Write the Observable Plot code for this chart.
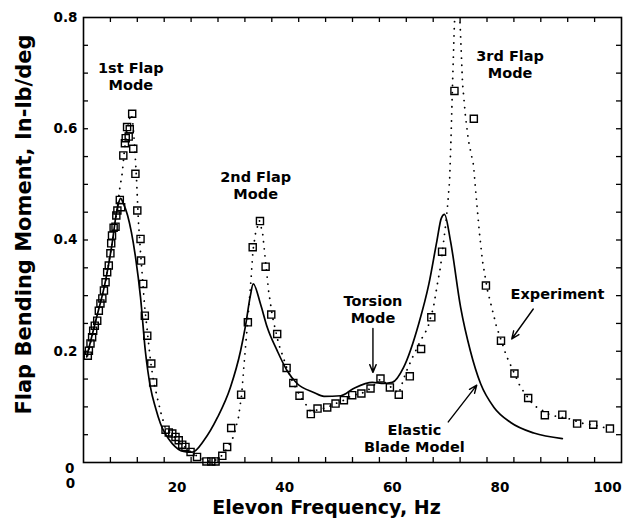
<!DOCTYPE html>
<html>
<head>
<meta charset="utf-8">
<script src="https://cdn.jsdelivr.net/npm/d3@7"></script>
<script src="https://cdn.jsdelivr.net/npm/@observablehq/plot@0.6"></script>
<style>
  html, body { margin: 0; padding: 0; background: #fff; }
  #chart svg { display: block; }
</style>
</head>
<body>
<div id="chart"></div>
<script>
// Experimental flap bending moment (squares), Hz vs in-lb/deg
const expHz = [0.8,1.0,1.3,1.6,1.8,2.1,2.55,2.85,3.15,3.5,3.8,4.1,4.4,4.7,5.0,5.15,5.3,5.6,5.95,6.1,
  6.3,6.75,7.0,7.4,7.7,7.85,8.1,8.4,8.6,9.05,9.25,9.65,10.0,10.6,10.7,11.1,11.4,11.85,12.6,12.95,
  15.25,15.85,16.5,17.1,17.7,18.35,18.95,19.9,21.1,22.85,23.75,24.55,25.8,26.7,27.45,29.3,30.55,31.45,32.8,33.85,
  34.9,36.0,37.75,39.0,40.15,42.25,43.5,45.3,46.85,48.4,49.95,51.65,53.35,55.2,56.95,58.6,60.65,62.75,64.65,66.65,
  68.95,72.55,74.8,77.6,80.1,82.65,85.75,89.0,91.75,94.75,97.85];
const expMoment = [0.192,0.201,0.214,0.225,0.237,0.246,0.255,0.273,0.286,0.295,0.309,0.324,0.342,0.354,0.376,0.394,0.408,0.422,0.424,0.444,
  0.453,0.472,0.459,0.552,0.574,0.583,0.603,0.586,0.599,0.627,0.564,0.519,0.453,0.402,0.363,0.321,0.264,0.228,0.178,0.144,
  0.059,0.054,0.052,0.046,0.040,0.032,0.028,0.019,0.010,0.002,0.002,0.002,0.012,0.028,0.062,0.122,0.252,0.387,0.434,0.352,
  0.266,0.231,0.170,0.143,0.120,0.087,0.097,0.099,0.106,0.112,0.121,0.124,0.133,0.151,0.135,0.122,0.155,0.204,0.261,0.379,
  0.668,0.618,0.318,0.219,0.160,0.116,0.085,0.086,0.070,0.068,0.061];

// Dotted trend through the experimental data
const trendHz = [0.75,2.2,4.1,5.4,6.3,6.75,7.2,7.6,8.2,8.75,9.1,9.5,9.85,10.2,10.6,11.0,11.35,11.9,12.45,13.0,
  13.75,14.5,15.25,16.5,18.0,19.5,21.2,22.85,24.5,25.8,26.8,27.9,28.8,29.4,29.9,30.5,31.05,31.5,32.0,32.7,
  33.3,33.85,34.4,35.1,36.25,37.75,39.0,40.3,42.2,43.7,45.3,46.85,48.4,49.95,51.65,53.35,55.2,56.95,58.6,59.85,
  61.15,62.65,63.95,65.05,65.8,66.35,67.3,67.65,68.05,68.3,68.6,68.9,69.45,70.05,70.45,71.0,71.55,72.5,73.05,73.6,
  74.15,75.1,76.75,78.6,81.25,83.65,86.8,90.15,92.95,96.1,97.4];
const trendMoment = [0.192,0.252,0.324,0.399,0.457,0.493,0.52,0.561,0.603,0.626,0.619,0.57,0.511,0.435,0.378,0.327,0.282,0.232,0.183,0.147,
  0.115,0.085,0.061,0.050,0.036,0.022,0.011,0.002,0.004,0.013,0.027,0.047,0.081,0.122,0.183,0.252,0.318,0.381,0.414,0.435,
  0.412,0.36,0.309,0.263,0.214,0.171,0.142,0.119,0.092,0.095,0.099,0.106,0.112,0.121,0.124,0.133,0.15,0.137,0.124,0.16,
  0.189,0.219,0.241,0.279,0.322,0.351,0.426,0.459,0.507,0.579,0.682,0.777,0.9,0.777,0.682,0.622,0.579,0.534,0.471,0.412,
  0.363,0.309,0.245,0.192,0.135,0.103,0.085,0.079,0.07,0.065,0.061];

// Elastic blade model prediction (solid)
const modelHz = [0.6,2.2,4.1,5.4,6.1,6.5,6.9,7.4,8.2,8.9,9.7,10.6,11.5,12.45,13.4,14.3,16.5,18.6,20.2,22.4,
  24.9,27.3,29.2,30.1,31.0,31.55,32.9,34.15,36.0,37.85,39.7,42.8,44.7,47.8,50.2,53.7,55.8,57.4,59.5,62.3,
  64.2,65.7,66.5,67.1,68.2,70.1,71.9,73.8,76.3,79.4,83.7,89.0];
const modelMoment = [0.19,0.252,0.327,0.399,0.448,0.466,0.475,0.466,0.444,0.414,0.367,0.297,0.20,0.135,0.098,0.07,0.034,0.02,0.0185,0.04,
  0.081,0.135,0.201,0.245,0.299,0.321,0.285,0.243,0.201,0.165,0.142,0.126,0.119,0.12,0.133,0.144,0.142,0.144,0.171,0.249,
  0.321,0.399,0.439,0.446,0.399,0.279,0.201,0.142,0.099,0.072,0.053,0.043];

// Axis ticks
const xTickLabels = [20, 40, 60, 80, 100];
const yTickLabels = [0.2, 0.4, 0.6, 0.8];
const xMinor = d3.range(5, 100, 5);
const yMinor = d3.range(1, 16).map(i => i * 0.05);

// Annotations (label text, anchor position in data units)
const notes = [
  {text: "1st Flap\nMode", hz: 8.8, m: 0.694},
  {text: "2nd Flap\nMode", hz: 32.0, m: 0.499},
  {text: "3rd Flap\nMode", hz: 79.3, m: 0.717},
  {text: "Torsion\nMode", hz: 53.8, m: 0.276},
  {text: "Experiment", hz: 88.1, m: 0.303},
  {text: "Elastic\nBlade Model", hz: 61.5, m: 0.044}
];
const pointers = [
  {hz1: 53.8, m1: 0.241, hz2: 53.8, m2: 0.162},
  {hz1: 83.6, m1: 0.276, hz2: 79.6, m2: 0.222},
  {hz1: 67.8, m1: 0.073, hz2: 73.1, m2: 0.139}
];

const exp = expHz.map((f, i) => ({f, m: expMoment[i]}));
const trend = trendHz.map((f, i) => ({f, m: trendMoment[i]}));
const model = modelHz.map((f, i) => ({f, m: modelMoment[i]}));

const W = 625, H = 523;
const mL = 83, mR = 4, mT = 17, mB = 61;
const innerW = W - mL - mR, innerH = H - mT - mB;
const tickLen = 5;
const font = "DejaVu Sans, Liberation Sans, Arial, sans-serif";

const chart = Plot.plot({
  width: W,
  height: H,
  marginLeft: mL,
  marginRight: mR,
  marginTop: mT,
  marginBottom: mB,
  style: {fontFamily: font, fontWeight: "bold", fontSize: "13.5px", background: "#fff", color: "#000"},
  x: {domain: [0, 100], axis: null},
  y: {domain: [0, 0.8], axis: null},
  marks: [
    // inward ticks on all four sides
    Plot.tickX(xMinor, {x: d => d, insetTop: innerH - tickLen, stroke: "#000", strokeWidth: 1.3}),
    Plot.tickX(xMinor, {x: d => d, insetBottom: innerH - tickLen, stroke: "#000", strokeWidth: 1.3}),
    Plot.tickY(yMinor, {y: d => d, insetRight: innerW - tickLen, stroke: "#000", strokeWidth: 1.3}),
    Plot.tickY(yMinor, {y: d => d, insetLeft: innerW - tickLen, stroke: "#000", strokeWidth: 1.3}),
    Plot.frame({stroke: "#000", strokeWidth: 1.6}),
    // tick labels
    Plot.text(xTickLabels, {x: d => d, frameAnchor: "bottom", lineAnchor: "middle", dy: 25, dx: -14, text: d => String(d), fill: "#000"}),
    Plot.text([0], {x: d => d, frameAnchor: "bottom", lineAnchor: "middle", dy: 21, dx: -13, text: () => "0", fill: "#000"}),
    Plot.text(yTickLabels, {y: d => d, frameAnchor: "left", lineAnchor: "middle", dx: -6, textAnchor: "end", text: d => d.toFixed(1), fill: "#000"}),
    Plot.text([0], {y: d => d, frameAnchor: "left", lineAnchor: "middle", dx: -9, dy: 6, textAnchor: "end", text: () => "0", fill: "#000"}),
    // axis titles
    Plot.text(["Elevon Frequency, Hz"], {frameAnchor: "bottom", lineAnchor: "middle", textAnchor: "middle", dx: -26, dy: 45, fontSize: 19, fill: "#000"}),
    Plot.text(["Flap Bending Moment, In-lb/deg"], {frameAnchor: "left", lineAnchor: "middle", textAnchor: "middle", rotate: -90, dx: -59, dy: -15.5, fontSize: 21, fill: "#000"}),
    // curves
    Plot.line(trend, {x: "f", y: "m", stroke: "#000", strokeWidth: 1.8, strokeDasharray: "0.1,7", strokeLinecap: "round", clip: true}),
    Plot.line(model, {x: "f", y: "m", stroke: "#000", strokeWidth: 1.7, curve: "monotone-x"}),
    Plot.dot(exp, {x: "f", y: "m", symbol: "square", r: 4, stroke: "#000", strokeWidth: 1.4, fill: "none"}),
    // annotations
    Plot.text(notes, {x: "hz", y: "m", text: "text", fontSize: 14.5, lineHeight: 1.17, fill: "#000"}),
    Plot.arrow(pointers, {x1: "hz1", y1: "m1", x2: "hz2", y2: "m2", stroke: "#000", strokeWidth: 1.4, headLength: 9, headAngle: 45})
  ]
});

document.getElementById("chart").appendChild(chart);
</script>
</body>
</html>
